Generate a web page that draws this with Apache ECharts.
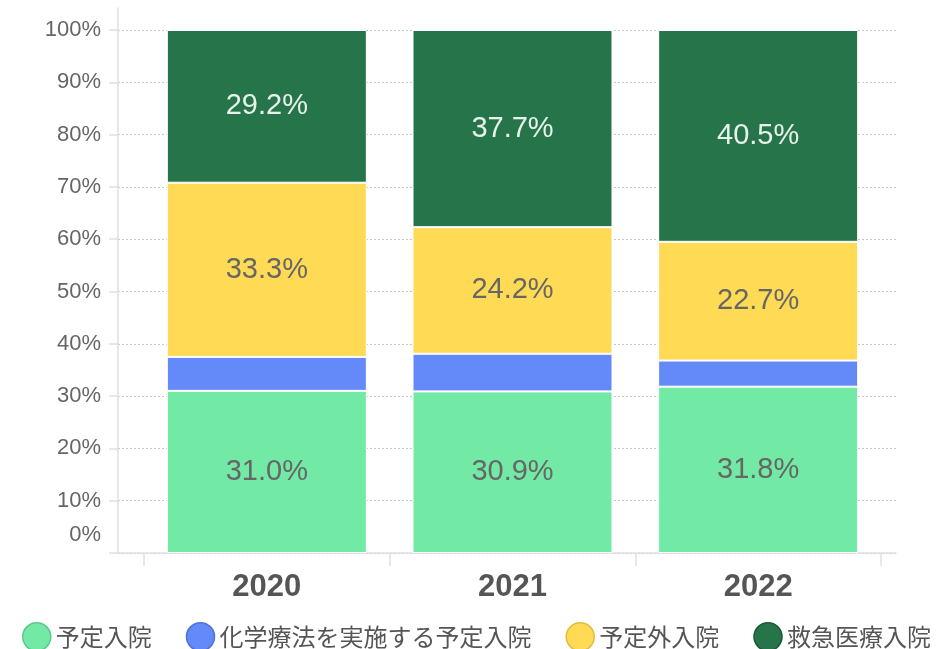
<!DOCTYPE html>
<html lang="ja">
<head>
  <meta charset="UTF-8">
  <title>入院区分の割合</title>
  <script src="https://cdn.jsdelivr.net/npm/echarts@6/dist/echarts.min.js"></script>
  <style>
    html, body { margin: 0; padding: 0; background: #fff; }
    #main { width: 939px; height: 649px; }
  </style>
</head>
<body>
  <div id="main"></div>
  <script>
    // データ（%）
    var categories = ['2020', '2021', '2022'];
    var planned = [31.0, 30.9, 31.8];      // 予定入院
    var chemo = [6.5, 7.2, 5.0];           // 化学療法を実施する予定入院
    var unplanned = [33.3, 24.2, 22.7];    // 予定外入院
    var emergency = [29.2, 37.7, 40.5];    // 救急医療入院
    var seriesNames = ['予定入院', '化学療法を実施する予定入院', '予定外入院', '救急医療入院'];
    var yTicks = [0, 100, 10]; // min, max, interval

    var latin = '"Liberation Sans", Arial, sans-serif';
    var cjk = '"Noto Sans CJK JP", sans-serif';
    var axisColor = '#dcdfe8';

    var chart = echarts.init(document.getElementById('main'));

    function barSeries(name, data, color, edge, labelColor, showLabel) {
      return {
        name: name,
        type: 'bar',
        stack: 'total',
        xAxisIndex: 2,
        yAxisIndex: 2,
        barWidth: 200,
        data: data,
        itemStyle: { color: color, borderColor: '#ffffff', borderWidth: 1 },
        label: {
          show: showLabel,
          position: 'inside',
          fontFamily: latin,
          fontSize: 29,
          color: labelColor,
          formatter: function (p) { return p.value.toFixed(1) + '%'; }
        },
        emphasis: { disabled: true },
        _edge: edge
      };
    }

    var series = [
      barSeries(seriesNames[0], planned, '#72eaa5', '#5cc98a', '#666', true),
      barSeries(seriesNames[1], chemo, '#6489f8', '#4f70d6', '#666', false),
      barSeries(seriesNames[2], unplanned, '#ffda55', '#e0bd40', '#666', true),
      barSeries(seriesNames[3], emergency, '#267449', '#1c5a37', '#e8f2ec', true)
    ];

    // 凡例の丸は少し濃い縁取り
    var legendData = series.map(function (s) {
      return { name: s.name, itemStyle: { color: s.itemStyle.color, borderColor: s._edge, borderWidth: 1.5 } };
    });
    series.forEach(function (s) { delete s._edge; });

    var option = {
      animation: false,
      textStyle: { fontFamily: latin },
      grid: [
        // 軸線だけ（少し上まで伸びる）
        { left: 118, right: 43, top: 8, bottom: 96 },
        // 目盛りと補助線
        { left: 118, right: 43, top: 30, bottom: 96 },
        // 棒グラフ
        { left: 144, right: 58, top: 30, bottom: 96 }
      ],
      legend: {
        left: 17,
        top: 617,
        icon: 'circle',
        itemWidth: 28,
        itemHeight: 28,
        itemGap: 34,
        textStyle: { fontFamily: cjk, fontSize: 24, color: '#555', padding: [0, 0, 6, 0] },
        data: legendData
      },
      xAxis: [
        {
          gridIndex: 0, type: 'value', min: 0, max: 1,
          axisLine: { show: true, lineStyle: { color: axisColor, width: 1.5 } },
          axisTick: { show: false }, axisLabel: { show: false }, splitLine: { show: false }
        },
        { gridIndex: 1, type: 'value', show: false, min: 0, max: 1 },
        {
          gridIndex: 2, type: 'category', data: categories,
          axisLine: { show: false },
          axisTick: { show: true, length: 13, lineStyle: { color: axisColor, width: 1.5 } },
          axisLabel: { fontFamily: latin, fontSize: 31, fontWeight: 'bold', color: '#555', margin: 19 }
        }
      ],
      yAxis: [
        {
          gridIndex: 0, type: 'value', min: 0, max: 1,
          axisLine: { show: true, lineStyle: { color: axisColor, width: 1.5 } },
          axisTick: { show: false }, axisLabel: { show: false }, splitLine: { show: false }
        },
        {
          gridIndex: 1, type: 'value', min: yTicks[0], max: yTicks[1], interval: yTicks[2],
          axisLine: { show: false },
          axisTick: { show: true, length: 9, lineStyle: { color: axisColor, width: 1.5 } },
          axisLabel: {
            fontFamily: latin, fontSize: 22, color: '#666', margin: 17,
            formatter: function (v) { return v === 0 ? '{z|0%}' : v + '%'; },
            rich: { z: { fontFamily: latin, fontSize: 22, color: '#666', padding: [0, 0, 36, 0] } }
          },
          splitLine: { show: true, lineStyle: { color: '#c8c8c8', type: [2, 2], width: 1 } }
        },
        { gridIndex: 2, type: 'value', show: false, min: yTicks[0], max: yTicks[1] }
      ],
      series: series
    };

    chart.setOption(option);
  </script>
</body>
</html>
